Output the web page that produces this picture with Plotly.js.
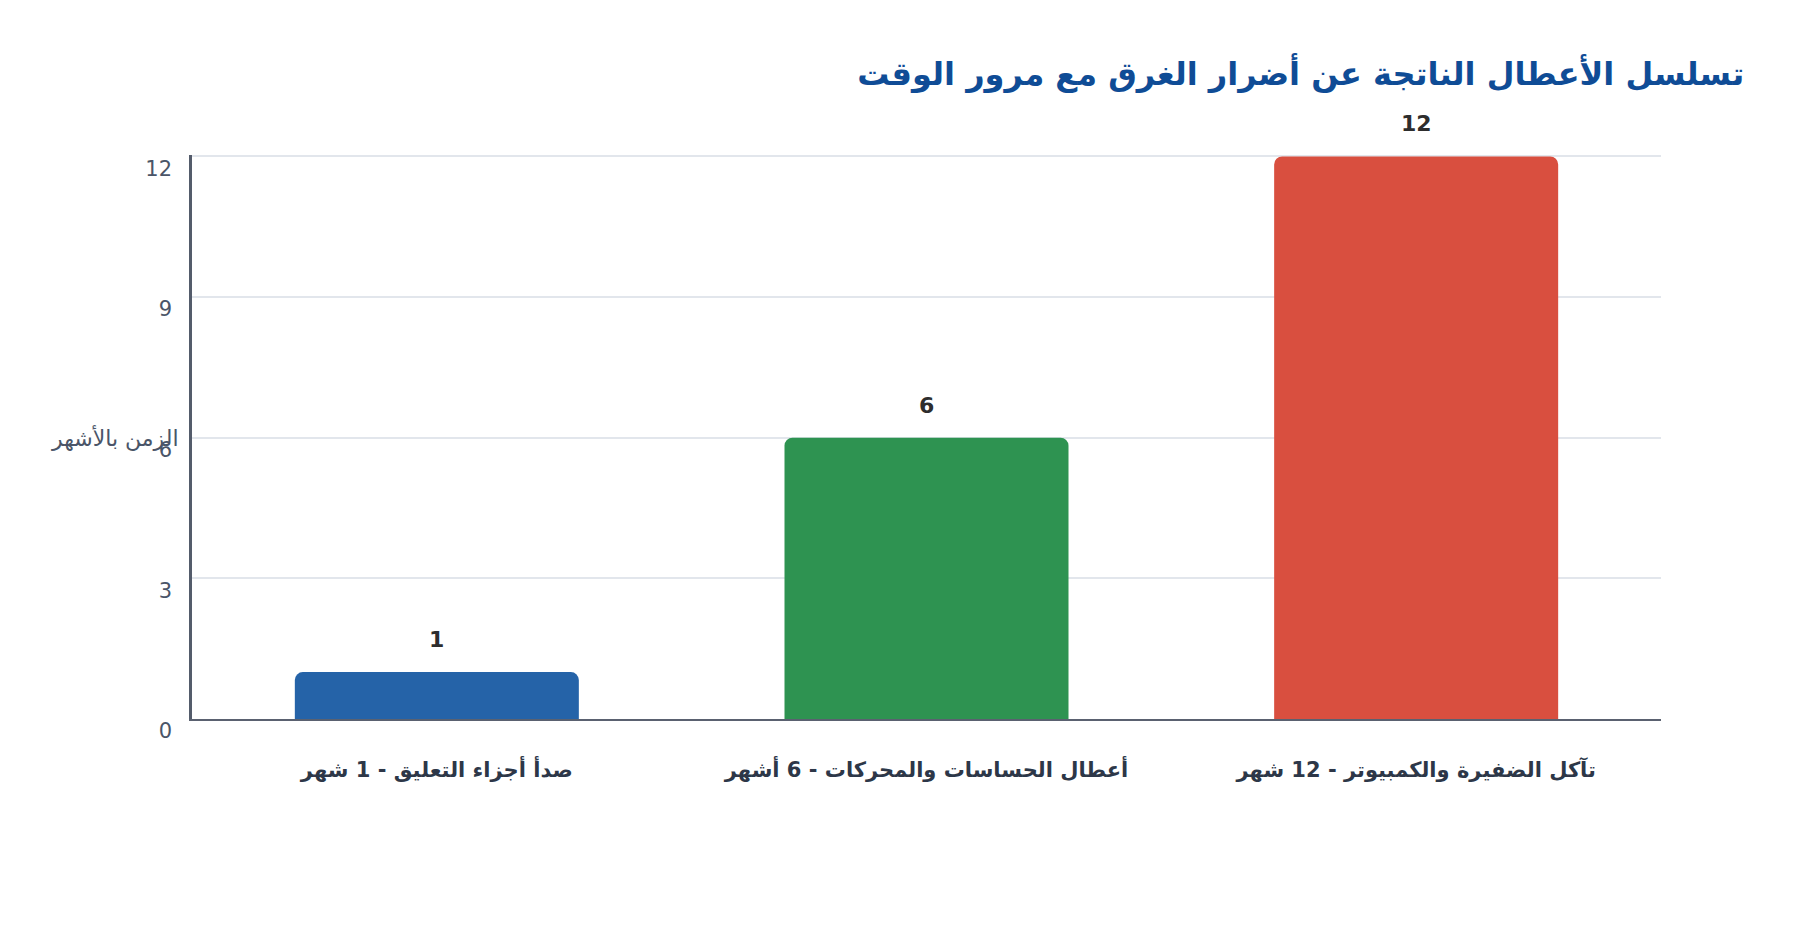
<!DOCTYPE html>
<html>
<head>
<meta charset="utf-8">
<script src="https://cdn.plot.ly/plotly-3.0.1.min.js"></script>
<style>html,body{margin:0;padding:0;background:#fff;}#chart{width:1800px;height:940px;}</style>
</head>
<body>
<div id="chart"></div>
<script>
const categories = ["صدأ أجزاء التعليق - 1 شهر", "أعطال الحساسات والمحركات - 6 أشهر", "تآكل الضفيرة والكمبيوتر - 12 شهر"];
const months = [1, 6, 12];
const barColors = ["#2563a8", "#2e9351", "#d94f3f"];
const yTicks = [0, 3, 6, 9, 12];
const chartTitle = "تسلسل الأعطال الناتجة عن أضرار الغرق مع مرور الوقت";
const yTitle = "الزمن بالأشهر";

const font = "DejaVu Sans";

const trace = {
  type: "bar",
  x: categories,
  y: months,
  marker: {color: barColors, line: {width: 0}},
  width: 0.58,
  hoverinfo: "skip"
};

const valueLabels = categories.map((c, i) => ({
  x: c, y: months[i], xref: "x", yref: "y",
  text: "<b>" + months[i] + "</b>",
  showarrow: false, yanchor: "bottom", yshift: 18,
  font: {family: font, size: 22, color: "#2d2d2d"}
}));

const layout = {
  width: 1800, height: 940,
  paper_bgcolor: "#ffffff", plot_bgcolor: "#ffffff",
  margin: {l: 192, r: 139, t: 155, b: 221},
  barcornerradius: 8,
  showlegend: false,
  title: {
    text: "<b>" + chartTitle + "</b>",
    x: 0.969, xanchor: "right", xref: "container",
    y: 0.921, yanchor: "middle", yref: "container",
    font: {family: font, size: 32, color: "#0f4c96"}
  },
  xaxis: {
    type: "category",
    showline: true, linecolor: "#5a6170", linewidth: 2,
    showgrid: false, zeroline: false, ticks: "",
    ticklabelstandoff: 31,
    tickfont: {family: font, size: 21, color: "#2d3748", weight: "bold"}
  },
  yaxis: {
    range: [0, 12.03],
    tickvals: yTicks, ticktext: yTicks.map(String),
    showline: true, linecolor: "#545c6b", linewidth: 2.5,
    showgrid: true, gridcolor: "#e2e6ec", gridwidth: 2,
    zeroline: false, ticks: "",
    ticklabelstandoff: 13, ticklabelshift: 12,
    tickfont: {family: font, size: 21, color: "#4a5568"}
  },
  annotations: valueLabels.concat([{
    x: 0, xref: "paper", xanchor: "right", xshift: -11,
    y: 6, yref: "y", yanchor: "middle",
    text: yTitle, showarrow: false,
    font: {family: font, size: 22, color: "#4a5568"}
  }])
};

Plotly.newPlot("chart", [trace], layout, {displayModeBar: false, responsive: false});
</script>
</body>
</html>
